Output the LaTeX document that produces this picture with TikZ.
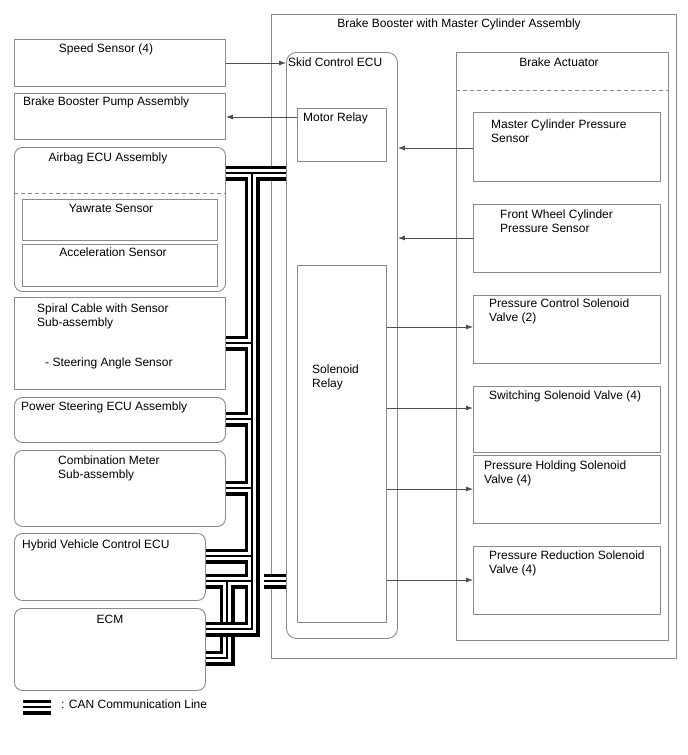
\documentclass[tikz,border=0pt]{standalone}
\usepackage{fontspec}
\setmainfont{Liberation Sans}
\usetikzlibrary{arrows.meta,calc}
\definecolor{boxgray}{HTML}{8A8A8A}
\definecolor{arrgray}{HTML}{505050}
\begin{document}
\begin{tikzpicture}[x=1pt,y=-1pt,
  box/.style={draw=boxgray, line width=0.9pt, inner sep=0pt, anchor=north west, fill=none},
  rbox/.style={box, rounded corners=8pt},
  lbl/.style={inner sep=0pt, font=\fontsize{12}{14}\selectfont, text=black},
  arr/.style={draw=arrgray, line width=0.8pt, -{Latex[length=7pt,width=5pt]}},
  dsh/.style={draw=boxgray, line width=0.9pt, dash pattern=on 4pt off 3pt},
]
\useasboundingbox[fill=white] (0,0) rectangle (688,755);

% ---------- right side ----------
\node[box, minimum width=405pt, minimum height=644pt] (outer) at (271,14) {};
\node[lbl, anchor=base] (tOuter) at (459,27) {Brake Booster with Master Cylinder Assembly};

\node[rbox, rounded corners=10pt, minimum width=111pt, minimum height=586pt] (skid) at (286,52) {};
\node[lbl, anchor=base west] (tSkid) at (288,66) {Skid Control ECU};
\node[box, minimum width=89pt, minimum height=53pt] (motor) at (297,108) {};
\node[lbl, anchor=base west] (tMotor) at (303,121) {Motor Relay};
\node[box, minimum width=89pt, minimum height=357pt] (sol) at (297,265) {};
\node[lbl, anchor=base west] (tSol1) at (312,373) {Solenoid};
\node[lbl, anchor=base west] (tSol2) at (312,387) {Relay};

\node[box, minimum width=212pt, minimum height=588pt] (act) at (456,52) {};
\node[lbl, anchor=base] (tAct) at (559,66) {Brake Actuator};
\draw[dsh] (act.west |- 0,90) -- (act.east |- 0,90);

\node[box, minimum width=187pt, minimum height=69pt] (mcps) at (473,112) {};
\node[lbl, anchor=base west] (tMcps1) at (491,128) {Master Cylinder Pressure};
\node[lbl, anchor=base west] (tMcps2) at (491,142) {Sensor};
\node[box, minimum width=187pt, minimum height=68pt] (fwcps) at (473,204) {};
\node[lbl, anchor=base west] (tFw1) at (500,218) {Front Wheel Cylinder};
\node[lbl, anchor=base west] (tFw2) at (500,232) {Pressure Sensor};
\node[box, minimum width=187pt, minimum height=68pt] (pcsv) at (473,295) {};
\node[lbl, anchor=base west] (tPc1) at (489,307) {Pressure Control Solenoid};
\node[lbl, anchor=base west] (tPc2) at (489,321) {Valve (2)};
\node[box, minimum width=187pt, minimum height=66pt] (ssv) at (473,386) {};
\node[lbl, anchor=base west] (tSs) at (489,399) {Switching Solenoid Valve (4)};
\node[box, minimum width=187pt, minimum height=68pt] (phsv) at (473,455) {};
\node[lbl, anchor=base west] (tPh1) at (484,469) {Pressure Holding Solenoid};
\node[lbl, anchor=base west] (tPh2) at (484,483) {Valve (4)};
\node[box, minimum width=187pt, minimum height=68pt] (prsv) at (473,546) {};
\node[lbl, anchor=base west] (tPr1) at (489,559) {Pressure Reduction Solenoid};
\node[lbl, anchor=base west] (tPr2) at (489,573) {Valve (4)};

% ---------- left side ----------
\node[box, minimum width=211pt, minimum height=47pt] (speed) at (14,39) {};
\node[lbl, anchor=base] (tSpeed) at (106,52) {Speed Sensor (4)};
\node[box, minimum width=211pt, minimum height=46pt] (pump) at (14,93) {};
\node[lbl, anchor=base west] (tPump) at (23,105) {Brake Booster Pump Assembly};
\node[rbox, minimum width=211pt, minimum height=144pt] (airbag) at (14,147) {};
\node[lbl, anchor=base] (tAirbag) at (108,161) {Airbag ECU Assembly};
\draw[dsh] (airbag.west |- 0,193) -- (airbag.east |- 0,193);
\node[box, minimum width=195pt, minimum height=41pt] (yaw) at (22,199) {};
\node[lbl, anchor=base] (tYaw) at (111,212) {Yawrate Sensor};
\node[box, minimum width=195pt, minimum height=42pt] (accel) at (22,244) {};
\node[lbl, anchor=base] (tAccel) at (113,256) {Acceleration Sensor};
\node[box, minimum width=211pt, minimum height=92pt] (spiral) at (14,297) {};
\node[lbl, anchor=base west] (tSp1) at (37,312) {Spiral Cable with Sensor};
\node[lbl, anchor=base west] (tSp2) at (37,326) {Sub-assembly};
\node[lbl, anchor=base west] (tSp3) at (45,366) {- Steering Angle Sensor};
\node[rbox, minimum width=211pt, minimum height=45pt] (ps) at (14,397) {};
\node[lbl, anchor=base west] (tPs) at (21,410) {Power Steering ECU Assembly};
\node[rbox, minimum width=211pt, minimum height=76pt] (comb) at (14,450) {};
\node[lbl, anchor=base west] (tCb1) at (58,464) {Combination Meter};
\node[lbl, anchor=base west] (tCb2) at (58,478) {Sub-assembly};
\node[rbox, minimum width=191pt, minimum height=67pt] (hv) at (14,533) {};
\node[lbl, anchor=base west] (tHv) at (22,548) {Hybrid Vehicle Control ECU};
\node[rbox, minimum width=191pt, minimum height=82pt] (ecm) at (14,608) {};
\node[lbl, anchor=base] (tEcm) at (110,623) {ECM};

% ---------- arrows ----------
\draw[arr] (speed.east |- 0,63) -- (skid.west |- 0,63);
\draw[arr] (motor.west |- 0,117) -- (pump.east |- 0,117);
\draw[arr] (mcps.west |- 0,148) -- (skid.east |- 0,148);
\draw[arr] (fwcps.west |- 0,238) -- (skid.east |- 0,238);
\draw[arr] (sol.east |- 0,327) -- (pcsv.west |- 0,327);
\draw[arr] (sol.east |- 0,408) -- (ssv.west |- 0,408);
\draw[arr] (sol.east |- 0,489) -- (phsv.west |- 0,489);
\draw[arr] (sol.east |- 0,580) -- (prsv.west |- 0,580);

% ---------- CAN lines ----------
\coordinate (jTop) at (252,173);
\coordinate (jSp) at (252,343);
\coordinate (jPs) at (252,419);
\coordinate (jCb) at (252,488);
\coordinate (jHv) at (252,556);
\coordinate (jHv2) at (252,581);
\coordinate (jT) at (227,581);
\coordinate (jEcm) at (252,629);
\coordinate (jEcm2) at (227,658);
\coordinate (stubL) at (264,581);
\coordinate (legL) at (23,707);
\coordinate (legR) at (51,707);
\foreach \lw/\col in {15/black,8.5/white,1.2/black}{
  \draw[line width=\lw pt, \col, line join=miter, line cap=butt]
    (airbag.east |- jTop) -- (skid.west |- jTop)
    (jTop) -- (jEcm)
    (spiral.east |- jSp) -- (jSp)
    (ps.east |- jPs) -- (jPs)
    (comb.east |- jCb) -- (jCb)
    (hv.east |- jHv) -- (jHv)
    (hv.east |- jHv2) -- (jHv2)
    (jT) -- (jEcm2) -- (ecm.east |- jEcm2)
    (stubL) -- (skid.west |- stubL)
    (legL) -- (legR);
}
\foreach \lw/\col in {15/black,8.5/white,1.2/black}{
  \draw[line width=\lw pt, \col, line join=miter, line cap=butt]
    (252,600) -- (jEcm) -- (ecm.east |- jEcm);
}
\node[lbl, anchor=base west] (tLeg) at (61,708) {: CAN Communication Line};
\end{tikzpicture}
\end{document}
